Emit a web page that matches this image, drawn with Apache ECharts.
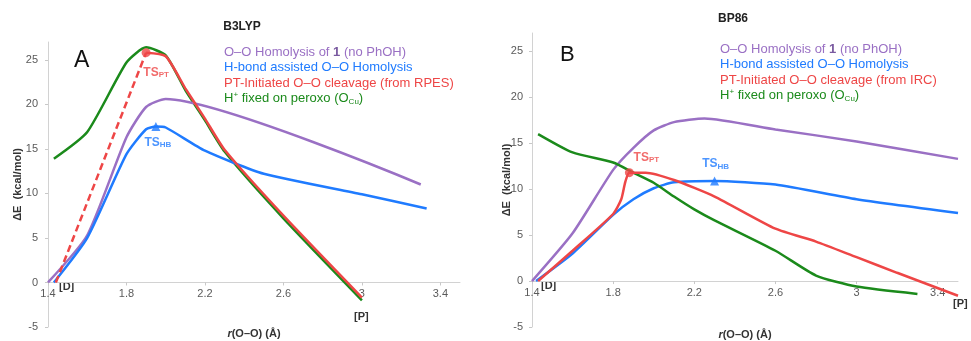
<!DOCTYPE html>
<html>
<head>
<meta charset="utf-8">
<script src="https://cdn.jsdelivr.net/npm/echarts@6/dist/echarts.min.js"></script>
<style>
  html, body { margin: 0; padding: 0; background: #fff; }
  #chart { width: 971px; height: 341px; }
</style>
</head>
<body>
<div id="chart"></div>
<script>
// tick labels
const xTicks = [1.4, 1.8, 2.2, 2.6, 3.0, 3.4];
const yTicks = [-5, 0, 5, 10, 15, 20, 25];
const yMin = -5;
const yMax = 27;

// series names
const nameHomolysis = 'O–O Homolysis of 1 (no PhOH)';
const nameHbond = 'H-bond assisted O–O Homolysis';
const namePtRpes = 'PT-Initiated O–O cleavage (from RPES)';
const namePtIrc = 'PT-Initiated O–O cleavage (from IRC)';
const nameFixed = 'H+ fixed on peroxo (OCu)';

// panel A (B3LYP): [r(O-O), dE]
const homolysisA = [[1.4, 0], [1.6, 5.3], [1.8, 16.3], [1.9, 19.7], [2.0, 20.6], [3.3, 11.0]];
const hbondA = [[1.43, 0], [1.6, 5.0], [1.8, 14.4], [1.9, 17.2], [1.95, 17.5], [2.0, 17.4], [2.2, 14.8], [2.5, 12.2], [3.0, 9.9], [3.33, 8.3]];
const ptDashA = [[1.44, 0], [1.9, 25.8]];
const ptA = [[1.9, 25.8], [2.0, 25.4], [2.1, 21.8], [2.2, 18.4], [2.3, 14.9], [2.6, 7.5], [3.0, -1.7]];
const fixedA = [[1.43, 13.9], [1.6, 16.9], [1.8, 24.7], [1.9, 26.4], [2.0, 25.5], [2.1, 21.6], [2.2, 18.2], [2.3, 14.7], [2.6, 7.2], [3.0, -2.0]];
const tsPtA = [1.9, 25.8];
const tsHbA = [1.95, 17.5];

// panel B (BP86)
const homolysisB = [[1.4, 0], [1.6, 5.2], [1.8, 12.1], [1.9, 14.5], [2.0, 16.4], [2.1, 17.3], [2.25, 17.7], [2.6, 16.5], [3.0, 15.2], [3.5, 13.3]];
const hbondB = [[1.42, 0], [1.6, 3.0], [1.8, 7.2], [1.9, 8.9], [2.0, 10.1], [2.1, 10.75], [2.3, 10.9], [2.6, 10.5], [3.0, 8.9], [3.5, 7.4]];
const ptB = [[1.43, 0], [1.6, 3.3], [1.8, 7.3], [1.84, 8.9], [1.86, 10.8], [1.88, 11.8], [1.96, 11.8], [2.1, 11.0], [2.3, 9.2], [2.6, 5.7], [2.8, 4.3], [3.0, 2.6], [3.2, 0.9], [3.5, -1.6]];
const fixedB = [[1.43, 16.0], [1.6, 14.0], [1.8, 12.9], [1.9, 11.8], [2.0, 10.7], [2.1, 9.2], [2.2, 7.8], [2.3, 6.6], [2.6, 3.3], [2.8, 0.6], [3.0, -0.6], [3.3, -1.4]];
const tsPtB = [1.88, 11.8];
const tsHbB = [2.3, 10.9];

const PURPLE = '#9a70c4';
const BLUE = '#1f7bff';
const RED = '#ee4646';
const GREEN = '#1b8a1b';
const FONT = '"Liberation Sans", Arial, sans-serif';

const grids = [
  { left: 48, top: 42, width: 412, height: 285 },
  { left: 532, top: 33, width: 426, height: 294 }
];

const chart = echarts.init(document.getElementById('chart'));

const legendRich = {
  p: { color: PURPLE, fontSize: 13, fontFamily: FONT },
  pb: { color: '#7a5aa0', fontSize: 13, fontWeight: 'bold', fontFamily: FONT },
  b: { color: BLUE, fontSize: 13, fontFamily: FONT },
  r: { color: RED, fontSize: 13, fontFamily: FONT },
  g: { color: GREEN, fontSize: 13, fontFamily: FONT },
  gsup: { color: GREEN, fontSize: 8, fontFamily: FONT, verticalAlign: 'top' },
  gsub: { color: GREEN, fontSize: 8, fontFamily: FONT, verticalAlign: 'bottom' }
};

function legendText(name) {
  if (name === nameHomolysis) return '{p|O–O Homolysis of }{pb|1}{p| (no PhOH)}';
  if (name === nameHbond) return '{b|' + name + '}';
  if (name === namePtRpes || name === namePtIrc) return '{r|' + name + '}';
  if (name === nameFixed) return '{g|H}{gsup|+}{g| fixed on peroxo (O}{gsub|Cu}{g|)}';
  return name;
}

function makeLegend(left, top, ptName) {
  return {
    data: [nameHomolysis, nameHbond, ptName, nameFixed],
    orient: 'vertical',
    left: left,
    top: top,
    icon: 'rect',
    itemWidth: 0,
    itemHeight: 0,
    itemGap: 0,
    selectedMode: false,
    formatter: legendText,
    textStyle: { fontSize: 13, lineHeight: 15.2, rich: legendRich }
  };
}

function makeX(idx) {
  // x axis crosses the y axis at 0, as in the original
  const zeroOffset = -grids[idx].height * (0 - yMin) / (yMax - yMin);
  return {
    type: 'value',
    gridIndex: idx,
    min: 1.4,
    max: 3.5,
    position: 'bottom',
    offset: zeroOffset,
    name: '{i|r}{n|(O–O) (Å)}',
    nameLocation: 'middle',
    nameGap: idx === 0 ? 46 : 48,
    nameMoveOverlap: false,
    nameTextStyle: {
      rich: {
        i: { fontStyle: 'italic', fontWeight: 'bold', fontSize: 11, color: '#333', fontFamily: FONT },
        n: { fontWeight: 'bold', fontSize: 11, color: '#333', fontFamily: FONT }
      }
    },
    axisLine: { onZero: false, lineStyle: { color: '#d2d2d2', width: 1 } },
    axisTick: { show: true, length: 3, lineStyle: { color: '#c8c8c8' }, customValues: xTicks },
    axisLabel: { customValues: xTicks, color: '#5a5a5a', fontSize: 11, fontFamily: FONT, margin: 6 },
    splitLine: { show: false }
  };
}

function makeY(idx) {
  return {
    type: 'value',
    gridIndex: idx,
    min: yMin,
    max: yMax,
    name: 'ΔE  (kcal/mol)',
    nameLocation: 'middle',
    nameGap: idx === 0 ? 25 : 20,
    nameMoveOverlap: false,
    nameTextStyle: { fontWeight: 'bold', fontSize: 11, color: '#333', fontFamily: FONT },
    axisLine: { show: true, onZero: false, lineStyle: { color: '#d2d2d2', width: 1 } },
    axisTick: { show: true, length: 3, lineStyle: { color: '#c8c8c8' }, customValues: yTicks },
    axisLabel: { customValues: yTicks, color: '#5a5a5a', fontSize: 11, fontFamily: FONT, margin: idx === 0 ? 10 : 9 },
    splitLine: { show: false }
  };
}

function line(name, data, color, idx, dashed) {
  return {
    name: name,
    type: 'line',
    xAxisIndex: idx,
    yAxisIndex: idx,
    data: data,
    showSymbol: false,
    smooth: 0.2,
    lineStyle: { color: color, width: 2.5, type: dashed ? [7, 4] : 'solid' },
    itemStyle: { color: color },
    z: 2
  };
}

const tsRich = (color) => ({
  t: { color: color, fontSize: 12, fontWeight: 'bold', fontFamily: FONT },
  s: { color: color, fontSize: 8, fontWeight: 'bold', fontFamily: FONT, verticalAlign: 'bottom', padding: [5, 0, 0, 0] }
});

function marker(name, point, symbol, color, sub, offset, idx) {
  return {
    name: name,
    type: 'scatter',
    xAxisIndex: idx,
    yAxisIndex: idx,
    data: [point],
    symbol: symbol,
    symbolSize: 9,
    itemStyle: { color: color },
    label: {
      show: true,
      position: 'inside',
      offset: offset,
      formatter: '{t|TS}{s|' + sub + '}',
      rich: tsRich(color)
    },
    z: 5
  };
}

const textStyleBold = { fontWeight: 'bold', fontSize: 11, fill: '#333', fontFamily: FONT };

chart.setOption({
  animation: false,
  backgroundColor: '#fff',
  title: [
    { text: 'B3LYP', left: 237, top: 16, textAlign: 'center',
      textStyle: { fontSize: 12, fontWeight: 'bold', color: '#222', fontFamily: FONT } },
    { text: 'BP86', left: 728, top: 8, textAlign: 'center',
      textStyle: { fontSize: 12, fontWeight: 'bold', color: '#222', fontFamily: FONT } }
  ],
  legend: [makeLegend(214, 40, namePtRpes), makeLegend(710, 37, namePtIrc)],
  grid: grids.map((g) => Object.assign({ outerBoundsMode: 'none' }, g)),
  xAxis: [makeX(0), makeX(1)],
  yAxis: [makeY(0), makeY(1)],
  series: [
    line(nameFixed, fixedA, GREEN, 0),
    line(nameHomolysis, homolysisA, PURPLE, 0),
    line(nameHbond, hbondA, BLUE, 0),
    line('PT dashed', ptDashA, RED, 0, true),
    line(namePtRpes, ptA, RED, 0),
    marker('TS PT A', tsPtA, 'circle', RED, 'PT', [10, 20], 0),
    marker('TS HB A', tsHbA, 'triangle', BLUE, 'HB', [2, 16], 0),

    line(nameHomolysis, homolysisB, PURPLE, 1),
    line(nameHbond, hbondB, BLUE, 1),
    line(nameFixed, fixedB, GREEN, 1),
    line(namePtIrc, ptB, RED, 1),
    marker('TS PT B', tsPtB, 'circle', RED, 'PT', [17, -15], 1),
    marker('TS HB B', tsHbB, 'triangle', BLUE, 'HB', [1, -17], 1)
  ],
  graphic: [
    { type: 'text', left: 74, top: 49, style: { text: 'A', fontSize: 23, fill: '#111', fontFamily: FONT } },
    { type: 'text', left: 560, top: 44, style: { text: 'B', fontSize: 22, fill: '#111', fontFamily: FONT } },
    { type: 'text', left: 59, top: 281, style: Object.assign({ text: '[D]' }, textStyleBold) },
    { type: 'text', left: 354, top: 311, style: Object.assign({ text: '[P]' }, textStyleBold) },
    { type: 'text', left: 541, top: 280, style: Object.assign({ text: '[D]' }, textStyleBold) },
    { type: 'text', left: 953, top: 298, style: Object.assign({ text: '[P]' }, textStyleBold) }
  ]
});
</script>
</body>
</html>
